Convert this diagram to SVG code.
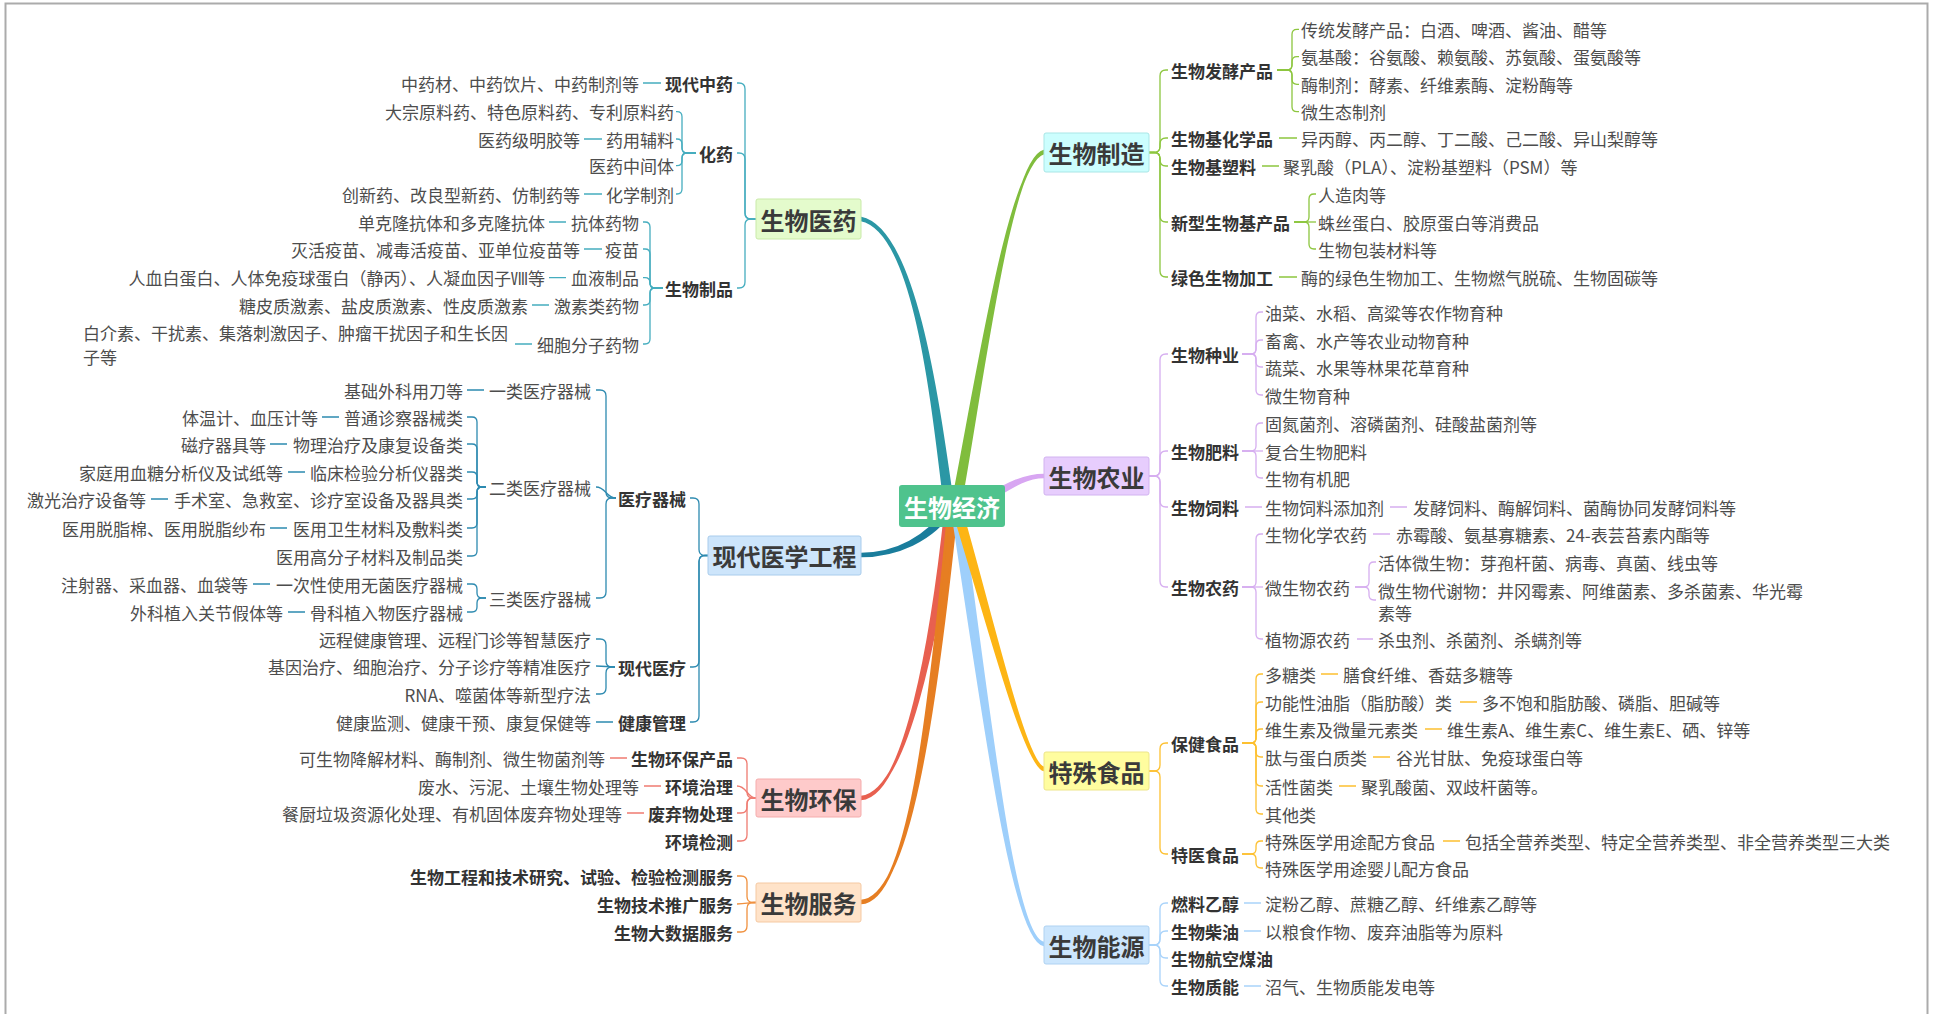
<svg xmlns="http://www.w3.org/2000/svg" width="1934" height="1014" viewBox="0 0 1934 1014">
<style>
.t{font-family:"Noto Sans CJK SC","Noto Sans",sans-serif;font-size:17px;fill:#4d4d4d;dominant-baseline:central}
.b{font-weight:bold;fill:#333}
.e{text-anchor:end}
.h{font-family:"Noto Sans CJK SC","Noto Sans",sans-serif;font-size:24px;font-weight:bold;fill:#3a3a3a;text-anchor:middle;dominant-baseline:central}
.w{fill:#fff}
.m{stroke-width:2.6;stroke-linejoin:round}
.k{fill:none;stroke-width:1.3}
.c1{stroke:#45ADBF}.c2{stroke:#2D8AB0}.c3{stroke:#EF7B71}.c4{stroke:#F0913F}
.c5{stroke:#8DC63F}.c6{stroke:#D6AEF0}.c7{stroke:#FDC030}.c8{stroke:#A9D3FA}
</style>
<rect x="0" y="0" width="1934" height="1014" fill="#fff"/>
<rect x="5.5" y="3.5" width="1922" height="1030" fill="#fff" stroke="#ABABAB" stroke-width="2"/>
<g id="connectors">
<g class="m">
<path fill="#2B97A5" stroke="#2B97A5" d="M953 506C938 400 915 229 861 218L861 220C915 231 932 400 945 506Z"/>
<path fill="#1A7D9C" stroke="#1A7D9C" d="M954.5 507.6C932.5 541.6 895 556 861 556L861 554C895 554 927.5 538.4 949.5 504.4Z"/>
<path fill="#80BD3D" stroke="#80BD3D" d="M960 506C983 380 1010 159 1044 151L1044 153C1010 161 977 380 952 506Z"/>
<path fill="#D8A6F2" stroke="#D8A6F2" d="M986.3 502.2C1011.3 487.2 1025 477 1044 477L1044 475C1025 475 1008.7 482.9 983.7 497.9Z"/>
<path fill="#E8604F" stroke="#E8604F" d="M954 506C938 640 905 794 861 797L861 799C905 796 932 640 946 506Z"/>
<path fill="#E67E22" stroke="#E67E22" d="M957 506C935 720 908 899 861 901L861 903C908 901 929 720 949 506Z"/>
<path fill="#9ECFFB" stroke="#9ECFFB" d="M960.5 506C988.5 700 1012 939 1044 943L1044 945C1012 941 981.5 700 951.5 506Z"/>
<path fill="#FDB515" stroke="#FDB515" d="M960 506C993 620 1025 764 1044 768L1044 770C1025 766 987 620 952 506Z"/>
</g>
<g class="k c1">
<path d="M756 219H751Q745 219 745 213V89Q745 83 739 83H737"/>
<path d="M756 219H751Q745 219 745 213V159Q745 153 739 153H737"/>
<path d="M756 219H751Q745 219 745 225V282Q745 288 739 288H737"/>
<path d="M696 153H687Q682 153 682 148V116.7Q682 111.7 677 111.7H676"/>
<path d="M696 153H687Q682 153 682 148V144Q682 139 677 139H676"/>
<path d="M696 153H687Q682 153 682 158V160.7Q682 165.7 677 165.7H676"/>
<path d="M696 153H687Q682 153 682 158V189Q682 194 677 194H676"/>
<path d="M663 288H655Q650 288 650 283V227Q650 222 645 222H643"/>
<path d="M663 288H655Q650 288 650 283V254Q650 249 645 249H643"/>
<path d="M663 288H655Q650 288 650 283Q650 277.7 645 277.7H643"/>
<path d="M663 288H655Q650 288 650 293V300Q650 305 645 305H643"/>
<path d="M663 288H655Q650 288 650 293V339Q650 344 645 344H643"/>
<path d="M643 83H661M584 139H602M584 194H602M549 222H566M584 249H602M549 277.7H566M532 305H549M515 344H532"/>
</g>
<g class="k c2">
<path d="M708 555.5H705Q699 555.5 699 549.5V504Q699 498 693 498H690"/>
<path d="M708 555.5H705Q699 555.5 699 561.5V661Q699 667 693 667H690"/>
<path d="M708 555.5H705Q699 555.5 699 561.5V716Q699 722 693 722H690"/>
<path d="M616 498H612Q606 498 606 492V396Q606 390 600 390H596"/>
<path d="M616 498C606 498 606 487 596 487"/>
<path d="M616 498H612Q606 498 606 504V592Q606 598 600 598H596"/>
<path d="M486 487H482Q477 487 477 482V422Q477 417 472 417H467"/>
<path d="M486 487H482Q477 487 477 482V449Q477 444 472 444H467"/>
<path d="M486 487H482Q477 487 477 482V477Q477 472 472 472H467"/>
<path d="M486 487H482Q477 487 477 492V494Q477 499 472 499H467"/>
<path d="M486 487H482Q477 487 477 492V523Q477 528 472 528H467"/>
<path d="M486 487H482Q477 487 477 492V551Q477 556 472 556H467"/>
<path d="M486 598H482Q477 598 477 593V589Q477 584 472 584H467"/>
<path d="M486 598H482Q477 598 477 603V607Q477 612 472 612H467"/>
<path d="M615 667H612Q606 667 606 661V645Q606 639 600 639H596"/>
<path d="M615 667C606 667 606 666 596 666"/>
<path d="M615 667H612Q606 667 606 673V688Q606 694 600 694H596"/>
<path d="M467 390H484M322 417H339M270 444H287M288 472H305M151 499H168M270 528H287M253 584H270M288 612H305M596 722H613"/>
</g>
<g class="k c3">
<path d="M756 798H753Q747 798 747 792V764Q747 758 741 758H737"/>
<path d="M756 798C747 798 747 786 737 786"/>
<path d="M756 798H753Q747 798 747 804V807Q747 813 741 813H737"/>
<path d="M756 798H753Q747 798 747 804V835Q747 841 741 841H737"/>
<path d="M610 758H627M644 786H661M627 813H644"/>
</g>
<g class="k c4">
<path d="M756 902.5H753Q747 902.5 747 896.5V882Q747 876 741 876H737"/>
<path d="M756 902.5C747 902.5 747 904 737 904"/>
<path d="M756 902.5H753Q747 902.5 747 908.5V926Q747 932 741 932H737"/>
</g>
<g class="k c5">
<path d="M1149 152.5H1154Q1160 152.5 1160 146.5V76Q1160 70 1166 70H1168"/>
<path d="M1149 152.5H1154Q1160 152.5 1160 146.5V144Q1160 138 1166 138H1168"/>
<path d="M1149 152.5H1154Q1160 152.5 1160 158.5V160Q1160 166 1166 166H1168"/>
<path d="M1149 152.5H1154Q1160 152.5 1160 158.5V216Q1160 222 1166 222H1168"/>
<path d="M1149 152.5H1154Q1160 152.5 1160 158.5V271Q1160 277 1166 277H1168"/>
<path d="M1277 70H1287Q1292 70 1292 65V34.3Q1292 29.3 1297 29.3H1299"/>
<path d="M1277 70H1287Q1292 70 1292 65V61.7Q1292 56.7 1297 56.7H1299"/>
<path d="M1277 70H1287Q1292 70 1292 75V79.3Q1292 84.3 1297 84.3H1299"/>
<path d="M1277 70H1287Q1292 70 1292 75V106.7Q1292 111.7 1297 111.7H1299"/>
<path d="M1294 222H1304Q1309 222 1309 217V199Q1309 194 1314 194H1316"/>
<path d="M1294 222H1316"/>
<path d="M1294 222H1304Q1309 222 1309 227V244Q1309 249 1314 249H1316"/>
<path d="M1279 138H1297M1262 166H1279M1279 277H1297"/>
</g>
<g class="k c6">
<path d="M1149 476H1154Q1160 476 1160 470V360Q1160 354 1166 354H1168"/>
<path d="M1149 476H1154Q1160 476 1160 470V457Q1160 451 1166 451H1168"/>
<path d="M1149 476H1154Q1160 476 1160 482V501Q1160 507 1166 507H1168"/>
<path d="M1149 476H1154Q1160 476 1160 482V581Q1160 587 1166 587H1168"/>
<path d="M1242 354H1251Q1256 354 1256 349V317Q1256 312 1261 312H1263"/>
<path d="M1242 354H1251Q1256 354 1256 349V345Q1256 340 1261 340H1263"/>
<path d="M1242 354H1251Q1256 354 1256 359V362Q1256 367 1261 367H1263"/>
<path d="M1242 354H1251Q1256 354 1256 359V390Q1256 395 1261 395H1263"/>
<path d="M1242 451H1251Q1256 451 1256 446V428Q1256 423 1261 423H1263"/>
<path d="M1242 451H1263"/>
<path d="M1242 451H1251Q1256 451 1256 456V473Q1256 478 1261 478H1263"/>
<path d="M1242 587H1251Q1256 587 1256 582V539Q1256 534 1261 534H1263"/>
<path d="M1242 587H1263"/>
<path d="M1242 587H1251Q1256 587 1256 592V634Q1256 639 1261 639H1263"/>
<path d="M1355 587H1364Q1369 587 1369 582V567Q1369 562 1374 562H1376"/>
<path d="M1355 587H1364Q1369 587 1369 592V595Q1369 600 1374 600H1376"/>
<path d="M1245 507H1262M1390 507H1407M1373 534H1390M1357 639H1373"/>
</g>
<g class="k c7">
<path d="M1149 771H1154Q1160 771 1160 765V749Q1160 743 1166 743H1168"/>
<path d="M1149 771H1154Q1160 771 1160 777V848Q1160 854 1166 854H1168"/>
<path d="M1242 743H1251Q1256 743 1256 738V679Q1256 674 1261 674H1263"/>
<path d="M1242 743H1251Q1256 743 1256 738V707Q1256 702 1261 702H1263"/>
<path d="M1242 743H1251Q1256 743 1256 738V734Q1256 729 1261 729H1263"/>
<path d="M1242 743H1251Q1256 743 1256 748V752Q1256 757 1261 757H1263"/>
<path d="M1242 743H1251Q1256 743 1256 748V781Q1256 786 1261 786H1263"/>
<path d="M1242 743H1251Q1256 743 1256 748V809Q1256 814 1261 814H1263"/>
<path d="M1242 854H1251Q1256 854 1256 849V846Q1256 841 1261 841H1263"/>
<path d="M1242 854H1251Q1256 854 1256 859V863Q1256 868 1261 868H1263"/>
<path d="M1321 674H1338M1460 702H1477M1425 729H1442M1373 757H1390M1339 786H1356M1443 841H1460"/>
</g>
<g class="k c8">
<path d="M1149 945H1154Q1160 945 1160 939V909Q1160 903 1166 903H1168"/>
<path d="M1149 945H1154Q1160 945 1160 939V937Q1160 931 1166 931H1168"/>
<path d="M1149 945H1154Q1160 945 1160 951V952Q1160 958 1166 958H1168"/>
<path d="M1149 945H1154Q1160 945 1160 951V980Q1160 986 1166 986H1168"/>
<path d="M1244 903H1261M1244 931H1261M1244 986H1261"/>
</g>
</g>
<g id="center"><rect x="899" y="485" width="106" height="42" rx="3" fill="#4FC38D"/><text class="h w" x="952" y="506">生物经济</text></g>
<g id="b1"><rect x="756" y="199" width="105" height="40" rx="2" fill="#E4FBCC" stroke="#C9EAA9"/><text class="h" x="808.5" y="219">生物医药</text></g>
<g id="b2"><rect x="708" y="536" width="153" height="39" rx="2" fill="#CDE5FB" stroke="#A9CCEC"/><text class="h" x="784.5" y="555.5">现代医学工程</text></g>
<g id="b3"><rect x="756" y="779" width="105" height="38" rx="2" fill="#FECACA" stroke="#F5ACAC"/><text class="h" x="808.5" y="798">生物环保</text></g>
<g id="b4"><rect x="756" y="883" width="105" height="39" rx="2" fill="#FFE3C9" stroke="#F5C9A2"/><text class="h" x="808.5" y="902.5">生物服务</text></g>
<g id="b5"><rect x="1044" y="133" width="105" height="39" rx="2" fill="#CCFEFE" stroke="#A9E6E6"/><text class="h" x="1096.5" y="152.5">生物制造</text></g>
<g id="b6"><rect x="1044" y="457" width="105" height="38" rx="2" fill="#E7CDFD" stroke="#D2B3F0"/><text class="h" x="1096.5" y="476">生物农业</text></g>
<g id="b7"><rect x="1044" y="752" width="105" height="38" rx="2" fill="#FFFD9F" stroke="#EDE58A"/><text class="h" x="1096.5" y="771">特殊食品</text></g>
<g id="b8"><rect x="1044" y="926" width="105" height="38" rx="2" fill="#CCE6FD" stroke="#AFD2F2"/><text class="h" x="1096.5" y="945">生物能源</text></g>
<g id="n1"><text class="t b e" x="733" y="83">现代中药</text></g>
<g id="n2"><text class="t b e" x="733" y="153">化药</text></g>
<g id="n3"><text class="t b e" x="733" y="288">生物制品</text></g>
<g id="n4"><text class="t e" x="639" y="83">中药材、中药饮片、中药制剂等</text></g>
<g id="n5"><text class="t e" x="674" y="111.7">大宗原料药、特色原料药、专利原料药</text></g>
<g id="n6"><text class="t e" x="674" y="139">药用辅料</text></g>
<g id="n7"><text class="t e" x="580" y="139">医药级明胶等</text></g>
<g id="n8"><text class="t e" x="674" y="165.7">医药中间体</text></g>
<g id="n9"><text class="t e" x="674" y="194">化学制剂</text></g>
<g id="n10"><text class="t e" x="580" y="194">创新药、改良型新药、仿制药等</text></g>
<g id="n11"><text class="t e" x="639" y="222">抗体药物</text></g>
<g id="n12"><text class="t e" x="545" y="222">单克隆抗体和多克隆抗体</text></g>
<g id="n13"><text class="t e" x="639" y="249">疫苗</text></g>
<g id="n14"><text class="t e" x="580" y="249">灭活疫苗、减毒活疫苗、亚单位疫苗等</text></g>
<g id="n15"><text class="t e" x="639" y="277.7">血液制品</text></g>
<g id="n16"><text class="t e" x="545" y="277.7">人血白蛋白、人体免疫球蛋白（静丙）、人凝血因子Ⅷ等</text></g>
<g id="n17"><text class="t e" x="639" y="305">激素类药物</text></g>
<g id="n18"><text class="t e" x="528" y="305">糖皮质激素、盐皮质激素、性皮质激素</text></g>
<g id="n19"><text class="t e" x="639" y="344">细胞分子药物</text></g>
<g id="n20"><text class="t" x="83" y="332.7">白介素、干扰素、集落刺激因子、肿瘤干扰因子和生长因</text><text class="t" x="83" y="356">子等</text></g>
<g id="n21"><text class="t b e" x="686" y="498">医疗器械</text></g>
<g id="n22"><text class="t b e" x="686" y="667">现代医疗</text></g>
<g id="n23"><text class="t b e" x="686" y="722">健康管理</text></g>
<g id="n24"><text class="t e" x="591" y="390">一类医疗器械</text></g>
<g id="n25"><text class="t e" x="463" y="390">基础外科用刀等</text></g>
<g id="n26"><text class="t e" x="591" y="487">二类医疗器械</text></g>
<g id="n27"><text class="t e" x="591" y="598">三类医疗器械</text></g>
<g id="n28"><text class="t e" x="463" y="417">普通诊察器械类</text></g>
<g id="n29"><text class="t e" x="318" y="417">体温计、血压计等</text></g>
<g id="n30"><text class="t e" x="463" y="444">物理治疗及康复设备类</text></g>
<g id="n31"><text class="t e" x="266" y="444">磁疗器具等</text></g>
<g id="n32"><text class="t e" x="463" y="472">临床检验分析仪器类</text></g>
<g id="n33"><text class="t e" x="283" y="472">家庭用血糖分析仪及试纸等</text></g>
<g id="n34"><text class="t e" x="463" y="499">手术室、急救室、诊疗室设备及器具类</text></g>
<g id="n35"><text class="t e" x="146" y="499">激光治疗设备等</text></g>
<g id="n36"><text class="t e" x="463" y="528">医用卫生材料及敷料类</text></g>
<g id="n37"><text class="t e" x="266" y="528">医用脱脂棉、医用脱脂纱布</text></g>
<g id="n38"><text class="t e" x="463" y="556">医用高分子材料及制品类</text></g>
<g id="n39"><text class="t e" x="463" y="584">一次性使用无菌医疗器械</text></g>
<g id="n40"><text class="t e" x="248" y="584">注射器、采血器、血袋等</text></g>
<g id="n41"><text class="t e" x="463" y="612">骨科植入物医疗器械</text></g>
<g id="n42"><text class="t e" x="283" y="612">外科植入关节假体等</text></g>
<g id="n43"><text class="t e" x="591" y="639">远程健康管理、远程门诊等智慧医疗</text></g>
<g id="n44"><text class="t e" x="591" y="666">基因治疗、细胞治疗、分子诊疗等精准医疗</text></g>
<g id="n45"><text class="t e" x="591" y="694">RNA、噬菌体等新型疗法</text></g>
<g id="n46"><text class="t e" x="591" y="722">健康监测、健康干预、康复保健等</text></g>
<g id="n47"><text class="t b e" x="733" y="758">生物环保产品</text></g>
<g id="n48"><text class="t e" x="605" y="758">可生物降解材料、酶制剂、微生物菌剂等</text></g>
<g id="n49"><text class="t b e" x="733" y="786">环境治理</text></g>
<g id="n50"><text class="t e" x="639" y="786">废水、污泥、土壤生物处理等</text></g>
<g id="n51"><text class="t b e" x="733" y="813">废弃物处理</text></g>
<g id="n52"><text class="t e" x="622" y="813">餐厨垃圾资源化处理、有机固体废弃物处理等</text></g>
<g id="n53"><text class="t b e" x="733" y="841">环境检测</text></g>
<g id="n54"><text class="t b e" x="733" y="876">生物工程和技术研究、试验、检验检测服务</text></g>
<g id="n55"><text class="t b e" x="733" y="904">生物技术推广服务</text></g>
<g id="n56"><text class="t b e" x="733" y="932">生物大数据服务</text></g>
<g id="n57"><text class="t b" x="1171" y="70">生物发酵产品</text></g>
<g id="n58"><text class="t" x="1301" y="29.3">传统发酵产品：白酒、啤酒、酱油、醋等</text></g>
<g id="n59"><text class="t" x="1301" y="56.7">氨基酸：谷氨酸、赖氨酸、苏氨酸、蛋氨酸等</text></g>
<g id="n60"><text class="t" x="1301" y="84.3">酶制剂：酵素、纤维素酶、淀粉酶等</text></g>
<g id="n61"><text class="t" x="1301" y="111.7">微生态制剂</text></g>
<g id="n62"><text class="t b" x="1171" y="138">生物基化学品</text></g>
<g id="n63"><text class="t" x="1301" y="138">异丙醇、丙二醇、丁二酸、己二酸、异山梨醇等</text></g>
<g id="n64"><text class="t b" x="1171" y="166">生物基塑料</text></g>
<g id="n65"><text class="t" x="1283" y="166">聚乳酸（PLA）、淀粉基塑料（PSM）等</text></g>
<g id="n66"><text class="t b" x="1171" y="222">新型生物基产品</text></g>
<g id="n67"><text class="t" x="1318" y="194">人造肉等</text></g>
<g id="n68"><text class="t" x="1318" y="222">蛛丝蛋白、胶原蛋白等消费品</text></g>
<g id="n69"><text class="t" x="1318" y="249">生物包装材料等</text></g>
<g id="n70"><text class="t b" x="1171" y="277">绿色生物加工</text></g>
<g id="n71"><text class="t" x="1301" y="277">酶的绿色生物加工、生物燃气脱硫、生物固碳等</text></g>
<g id="n72"><text class="t b" x="1171" y="354">生物种业</text></g>
<g id="n73"><text class="t" x="1265" y="312">油菜、水稻、高粱等农作物育种</text></g>
<g id="n74"><text class="t" x="1265" y="340">畜禽、水产等农业动物育种</text></g>
<g id="n75"><text class="t" x="1265" y="367">蔬菜、水果等林果花草育种</text></g>
<g id="n76"><text class="t" x="1265" y="395">微生物育种</text></g>
<g id="n77"><text class="t b" x="1171" y="451">生物肥料</text></g>
<g id="n78"><text class="t" x="1265" y="423">固氮菌剂、溶磷菌剂、硅酸盐菌剂等</text></g>
<g id="n79"><text class="t" x="1265" y="451">复合生物肥料</text></g>
<g id="n80"><text class="t" x="1265" y="478">生物有机肥</text></g>
<g id="n81"><text class="t b" x="1171" y="507">生物饲料</text></g>
<g id="n82"><text class="t" x="1265" y="507">生物饲料添加剂</text></g>
<g id="n83"><text class="t" x="1413" y="507">发酵饲料、酶解饲料、菌酶协同发酵饲料等</text></g>
<g id="n84"><text class="t b" x="1171" y="587">生物农药</text></g>
<g id="n85"><text class="t" x="1265" y="534">生物化学农药</text></g>
<g id="n86"><text class="t" x="1396" y="534">赤霉酸、氨基寡糖素、24-表芸苔素内酯等</text></g>
<g id="n87"><text class="t" x="1265" y="587">微生物农药</text></g>
<g id="n88"><text class="t" x="1378" y="562">活体微生物：芽孢杆菌、病毒、真菌、线虫等</text></g>
<g id="n89"><text class="t" x="1378" y="590">微生物代谢物：井冈霉素、阿维菌素、多杀菌素、华光霉</text><text class="t" x="1378" y="612">素等</text></g>
<g id="n90"><text class="t" x="1265" y="639">植物源农药</text></g>
<g id="n91"><text class="t" x="1378" y="639">杀虫剂、杀菌剂、杀螨剂等</text></g>
<g id="n92"><text class="t b" x="1171" y="743">保健食品</text></g>
<g id="n93"><text class="t" x="1265" y="674">多糖类</text></g>
<g id="n94"><text class="t" x="1343" y="674">膳食纤维、香菇多糖等</text></g>
<g id="n95"><text class="t" x="1265" y="702">功能性油脂（脂肪酸）类</text></g>
<g id="n96"><text class="t" x="1482" y="702">多不饱和脂肪酸、磷脂、胆碱等</text></g>
<g id="n97"><text class="t" x="1265" y="729">维生素及微量元素类</text></g>
<g id="n98"><text class="t" x="1447" y="729">维生素A、维生素C、维生素E、硒、锌等</text></g>
<g id="n99"><text class="t" x="1265" y="757">肽与蛋白质类</text></g>
<g id="n100"><text class="t" x="1396" y="757">谷光甘肽、免疫球蛋白等</text></g>
<g id="n101"><text class="t" x="1265" y="786">活性菌类</text></g>
<g id="n102"><text class="t" x="1361" y="786">聚乳酸菌、双歧杆菌等。</text></g>
<g id="n103"><text class="t" x="1265" y="814">其他类</text></g>
<g id="n104"><text class="t b" x="1171" y="854">特医食品</text></g>
<g id="n105"><text class="t" x="1265" y="841">特殊医学用途配方食品</text></g>
<g id="n106"><text class="t" x="1465" y="841">包括全营养类型、特定全营养类型、非全营养类型三大类</text></g>
<g id="n107"><text class="t" x="1265" y="868">特殊医学用途婴儿配方食品</text></g>
<g id="n108"><text class="t b" x="1171" y="903">燃料乙醇</text></g>
<g id="n109"><text class="t" x="1265" y="903">淀粉乙醇、蔗糖乙醇、纤维素乙醇等</text></g>
<g id="n110"><text class="t b" x="1171" y="931">生物柴油</text></g>
<g id="n111"><text class="t" x="1265" y="931">以粮食作物、废弃油脂等为原料</text></g>
<g id="n112"><text class="t b" x="1171" y="958">生物航空煤油</text></g>
<g id="n113"><text class="t b" x="1171" y="986">生物质能</text></g>
<g id="n114"><text class="t" x="1265" y="986">沼气、生物质能发电等</text></g>
</svg>
